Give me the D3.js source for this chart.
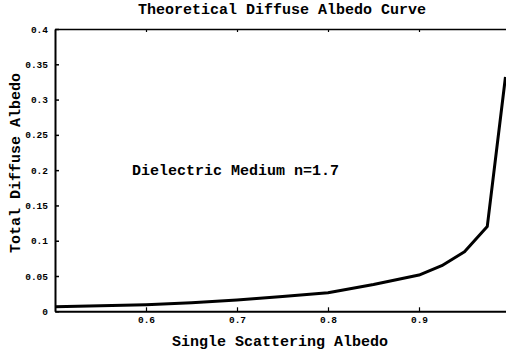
<!DOCTYPE html>
<html><head><meta charset="utf-8">
<script src="https://cdn.jsdelivr.net/npm/d3@7"></script>
<style>
body{margin:0;background:#fff;}
text{font-family:"Liberation Mono","Courier New",monospace;font-weight:bold;fill:#000;}
</style></head><body>
<svg id="c" width="506" height="353"></svg>
<script>
const albedoX = [0.5, 0.55, 0.6, 0.65, 0.7, 0.75, 0.8, 0.85, 0.9, 0.925, 0.95, 0.975, 0.995];
const diffuseY = [0.0065, 0.008, 0.0094, 0.012, 0.016, 0.021, 0.0264, 0.038, 0.0514, 0.0646, 0.0844, 0.12, 0.332];
const xTicks = [0.6, 0.7, 0.8, 0.9];
const yTicks = [0, 0.05, 0.1, 0.15, 0.2, 0.25, 0.3, 0.35, 0.4];
const yTickLabels = ["0", "0.05", "0.1", "0.15", "0.2", "0.25", "0.3", "0.35", "0.4"];

const svg = d3.select("#c");
const x = d3.scaleLinear().domain([0.5, 1.0]).range([55, 510]);
const y = d3.scaleLinear().domain([0, 0.4]).range([311.3, 29]);

// left axis
const gl = svg.append("g").attr("transform", `translate(${x(0.5)},0)`)
  .call(d3.axisLeft(y).tickValues(yTicks).tickFormat((d,i)=>yTickLabels[i]).tickSizeInner(-4).tickSizeOuter(0).tickPadding(7));
gl.select(".domain").attr("stroke-width", 2);
gl.selectAll(".tick line").attr("stroke-width", 1.5);
gl.selectAll("text").style("font-size", "9.5px");

// bottom axis
const gb = svg.append("g").attr("transform", `translate(0,${y(0)})`)
  .call(d3.axisBottom(x).tickValues(xTicks).tickFormat(d3.format(".1f")).tickSizeInner(-4).tickSizeOuter(0).tickPadding(5));
gb.select(".domain").attr("stroke-width", 2);
gb.selectAll(".tick line").attr("stroke-width", 1.2);
gb.selectAll("text").style("font-size", "9.5px");

// top axis
const gt = svg.append("g").attr("transform", `translate(0,${y(0.4)})`)
  .call(d3.axisTop(x).tickValues(xTicks).tickFormat("").tickSizeInner(-3).tickSizeOuter(0));
gt.select(".domain").attr("stroke-width", 1.5);
gt.selectAll(".tick line").attr("stroke-width", 1.2);

// curve
const pts = albedoX.map((v,i)=>[v, diffuseY[i]]);
svg.append("path").datum(pts)
  .attr("fill","none").attr("stroke","#000").attr("stroke-width",3).attr("stroke-linejoin","round")
  .attr("d", d3.line().x(d=>x(d[0])).y(d=>y(d[1])));

// texts
svg.append("text").attr("x", 282).attr("y", 14).attr("text-anchor","middle")
  .style("font-size","15px").text("Theoretical Diffuse Albedo Curve");
svg.append("text").attr("x", 280).attr("y", 346).attr("text-anchor","middle")
  .style("font-size","15px").text("Single Scattering Albedo");
svg.append("text").attr("transform","translate(20,163) rotate(-90)").attr("text-anchor","middle")
  .style("font-size","15px").text("Total Diffuse Albedo");
svg.append("text").attr("x", 132).attr("y", 175)
  .style("font-size","15px").text("Dielectric Medium n=1.7");
</script>
</body></html>
